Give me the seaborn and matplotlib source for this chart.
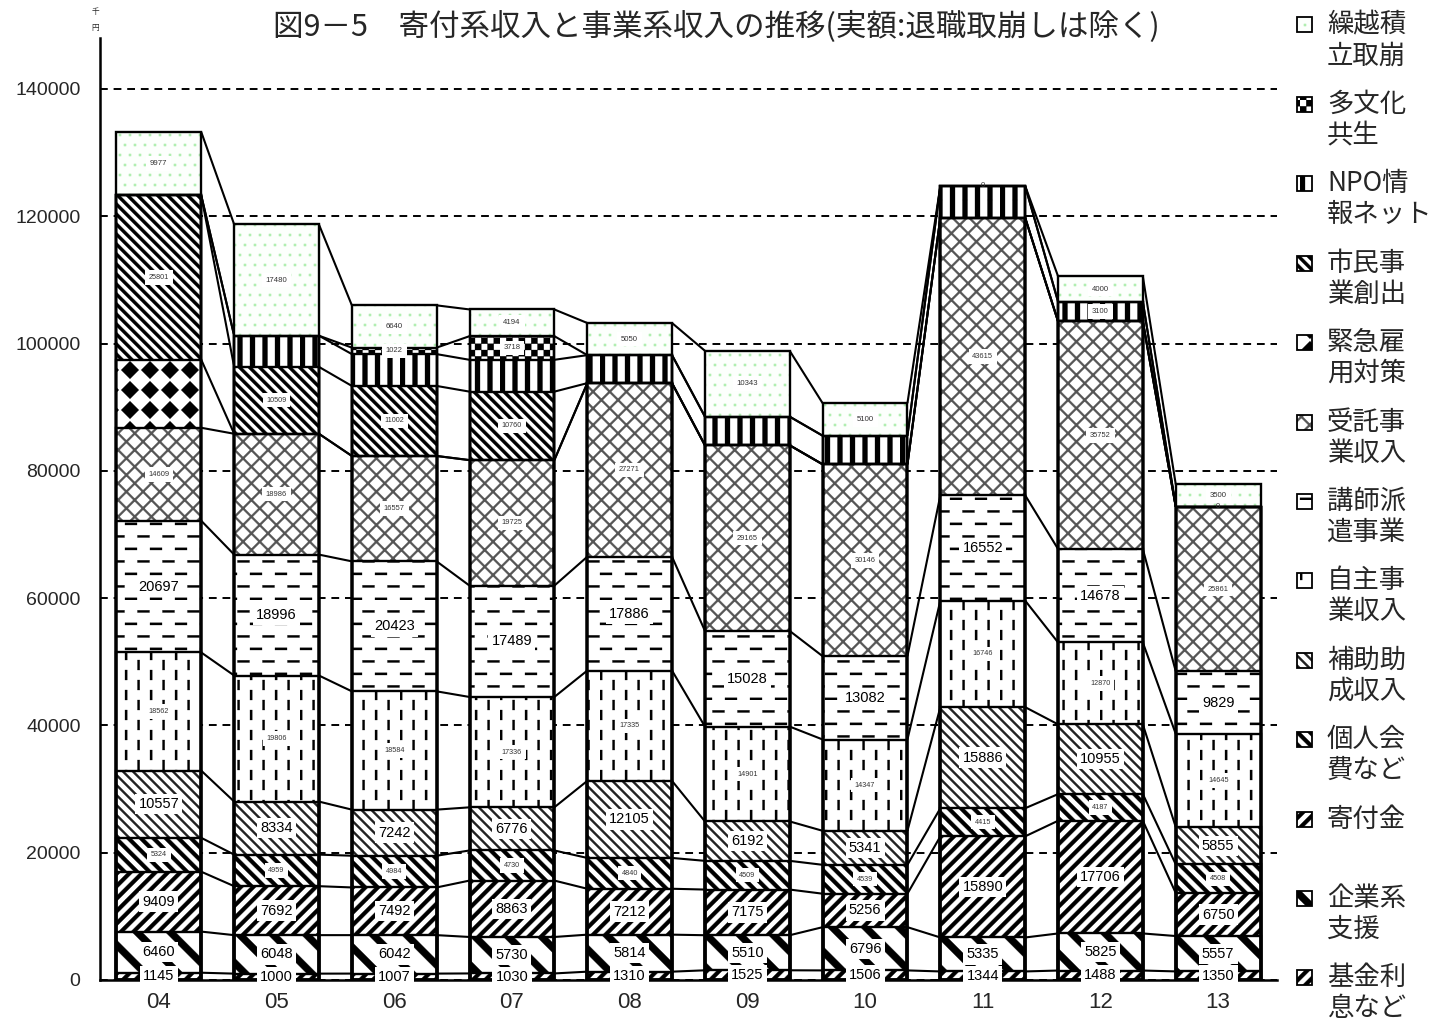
import numpy as np
import pandas as pd
import matplotlib
matplotlib.use("Agg")
import matplotlib.pyplot as plt
import matplotlib.hatch as mhatch
from matplotlib.path import Path
from matplotlib.patches import Rectangle
import seaborn as sns

# ---------------- data (千円) ----------------
years = ["04", "05", "06", "07", "08", "09", "10", "11", "12", "13"]

kikin     = [1145, 1000, 1007, 1030, 1310, 1525, 1506, 1344, 1488, 1350]          # 基金利息など
kigyo     = [6460, 6048, 6042, 5730, 5814, 5510, 6796, 5335, 5825, 5557]          # 企業系支援
kifu      = [9409, 7692, 7492, 8863, 7212, 7175, 5256, 15890, 17706, 6750]        # 寄付金
kojin     = [5324, 4959, 4984, 4730, 4840, 4509, 4539, 4415, 4187, 4508]          # 個人会費など
hojo      = [10557, 8334, 7242, 6776, 12105, 6192, 5341, 15886, 10955, 5855]      # 補助助成収入
jishu     = [18562, 19806, 18584, 17336, 17335, 14901, 14347, 16746, 12870, 14645]  # 自主事業収入
koshi     = [20697, 18996, 20423, 17489, 17886, 15028, 13082, 16552, 14678, 9829]   # 講師派遣事業
jutaku    = [14609, 18986, 16557, 19725, 27271, 29165, 30146, 43615, 35752, 25861]  # 受託事業収入
kinkyu    = [10700, 0, 0, 0, 0, 0, 0, 0, 0, 0]                                    # 緊急雇用対策
shimin    = [25801, 10509, 11002, 10760, 0, 0, 0, 0, 0, 0]                        # 市民事業創出
npo       = [0, 4900, 5000, 5000, 4400, 4500, 4500, 5000, 3100, 0]                # NPO情報ネット
tabunka   = [0, 0, 1022, 3718, 0, 0, 0, 0, 0, 0]                                  # 多文化共生
kurikoshi = [9977, 17480, 6640, 4194, 5050, 10343, 5100, 0, 4000, 3500]          # 繰越積立取崩

series_names = ["基金利息など", "企業系支援", "寄付金", "個人会費など", "補助助成収入",
                "自主事業収入", "講師派遣事業", "受託事業収入", "緊急雇用対策",
                "市民事業創出", "NPO情報ネット", "多文化共生", "繰越積立取崩"]
series_values = [kikin, kigyo, kifu, kojin, hojo, jishu, koshi, jutaku,
                 kinkyu, shimin, npo, tabunka, kurikoshi]

# legend text (two lines each), same order as series
legend_text = [("基金利", "息など"), ("企業系", "支援"), ("寄付金", ""), ("個人会", "費など"),
               ("補助助", "成収入"), ("自主事", "業収入"), ("講師派", "遣事業"),
               ("受託事", "業収入"), ("緊急雇", "用対策"), ("市民事", "業創出"),
               ("NPO情", "報ネット"), ("多文化", "共生"), ("繰越積", "立取崩")]

# labels hidden in the original / zero labels shown in the original
hidden_labels = {"緊急雇用対策": ["04"],
                 "NPO情報ネット": ["05", "06", "07", "08", "09", "10", "11"]}
zero_labels = {"繰越積立取崩": ["11"], "NPO情報ネット": ["13"]}

title = "図9－5　寄付系収入と事業系収入の推移(実額:退職取崩しは除く)"

# ---------------- styles ----------------
hatches = ["/", "\\", "/", "\\\\", "\\\\\\", "|", "-", "x", "O", "\\\\\\\\", "||", "+", "."]
hatch_colors = ["black", "black", "black", "black", "#222222", "black", "black", "#555555",
                "black", "black", "black", "black", "#b0eeb0"]
face_colors = ["white"] * 12 + ["#fcfffc"]
label_sizes = [10.5, 10.5, 10.5, 5.2, 10.5, 5.2, 10.5, 5.4, 5, 5.2, 5.5, 5.5, 5.6]


# ---------------- custom hatch patterns (filled polygons in unit cell) ----------------
def ne_stripes(n, w):
    return [[(c, 0), (c + w, 0), (c + w + 1, 1), (c + 1, 1)] for c in np.arange(-n - 1, n + 2) / n]


def se_stripes(n, w):
    return [[(c, 0), (c + w, 0), (c + w - 1, 1), (c - 1, 1)] for c in np.arange(-1, 2 * n + 2) / n]


def v_stripes(n, w):
    return [[(k / n, 0), (k / n + w, 0), (k / n + w, 1), (k / n, 1)] for k in range(n)]


def v_dashes(ncol, nrow, length, w):
    polys = []
    for k in range(ncol):
        x0 = k / ncol
        off = (k % 2) * 0.5 / nrow
        for j in range(-1, nrow + 1):
            y0 = j / nrow + off
            polys.append([(x0, y0), (x0 + w, y0), (x0 + w, y0 + length), (x0, y0 + length)])
    return polys


def h_dashes(nrow, ncol, length, w):
    polys = []
    for j in range(nrow):
        y0 = j / nrow
        off = (j % 2) * 0.5 / ncol
        for k in range(-1, ncol + 1):
            x0 = k / ncol + off
            polys.append([(x0, y0), (x0 + length, y0), (x0 + length, y0 + w), (x0, y0 + w)])
    return polys


def diamonds(n, r):
    polys = []
    for i in range(n):
        for j in range(n):
            cx, cy = (i + 0.5) / n, (j + 0.5) / n
            polys.append([(cx - r, cy), (cx, cy - r), (cx + r, cy), (cx, cy + r)])
    return polys


def checker(n):
    s = 1 / n
    return [[(i * s, j * s), ((i + 1) * s, j * s), ((i + 1) * s, (j + 1) * s), (i * s, (j + 1) * s)]
            for i in range(n) for j in range(n) if (i + j) % 2 == 0]


def dots(n, s):
    polys = []
    for j in range(n):
        off = (j % 2) * 0.5 / n
        for i in range(-1, n + 1):
            cx, cy = i / n + off, (j + 0.5) / n
            polys.append([(cx - s / 2, cy - s / 2), (cx + s / 2, cy - s / 2),
                          (cx + s / 2, cy + s / 2), (cx - s / 2, cy + s / 2)])
    return polys


PATTERNS = {
    "/": ne_stripes(8, 0.055),
    "\\": se_stripes(3, 0.1),
    "\\\\": se_stripes(8, 0.055),
    "\\\\\\": se_stripes(10, 0.03),
    "\\\\\\\\": se_stripes(10, 0.045),
    "|": v_dashes(8, 5, 0.1, 0.022),
    "-": h_dashes(8, 4, 0.12, 0.022),
    "x": ne_stripes(6, 0.028) + se_stripes(6, 0.028),
    "O": diamonds(5, 0.088),
    "||": v_stripes(8, 0.05),
    "+": checker(16),
    ".": dots(10, 0.022),
}


class PolygonHatch:
    def __init__(self, hatch, density):
        verts, codes = [], []
        for poly in PATTERNS.get(hatch, []):
            poly = [tuple(p) for p in poly]
            verts.extend(poly)
            verts.append(poly[0])
            codes.extend([Path.MOVETO] + [Path.LINETO] * (len(poly) - 1) + [Path.CLOSEPOLY])
        self._verts = np.array(verts, dtype=float).reshape(-1, 2)
        self._codes = np.array(codes, dtype=Path.code_type)
        self.num_vertices = len(self._verts)

    def set_vertices_and_codes(self, vertices, codes):
        vertices[:] = self._verts
        codes[:] = self._codes


mhatch._hatch_types[:] = [PolygonHatch]

# ---------------- figure ----------------
sns.set_style("white")
plt.rcParams["font.family"] = ["Noto Sans CJK JP", "DejaVu Sans"]
plt.rcParams["hatch.linewidth"] = 0.2

W_PX, H_PX = 1438, 1022
fig = plt.figure(figsize=(W_PX / 100, H_PX / 100), dpi=100)
ax_l, ax_r, ax_b, ax_t = 100, 1277, 980, 38
ax = fig.add_axes([ax_l / W_PX, 1 - ax_b / H_PX, (ax_r - ax_l) / W_PX, (ax_b - ax_t) / H_PX])

vals = np.array(series_values, dtype=float)
cum = np.cumsum(vals, axis=0)
base = cum - vals
df = pd.DataFrame({"year": years})
for k, name in enumerate(series_names):
    df[name] = cum[k]

BAR_W = 0.72
# filled (hatched) segments: draw tallest cumulative first, then cover downward
for k in reversed(range(len(series_names))):
    n0 = len(ax.patches)
    sns.barplot(data=df, x="year", y=series_names[k], order=years, ax=ax, width=BAR_W,
                color="white", saturation=1, errorbar=None, linewidth=0, zorder=2)
    for p in ax.patches[n0:]:
        p.set_facecolor(face_colors[k])
        p.set_edgecolor(hatch_colors[k])
        p.set_hatch(hatches[k])
        p.set_linewidth(0)

# outlines of every segment
for k in range(len(series_names)):
    n0 = len(ax.patches)
    sns.barplot(data=df, x="year", y=series_names[k], order=years, ax=ax, width=BAR_W,
                color="white", saturation=1, errorbar=None, zorder=2.6)
    for p in ax.patches[n0:]:
        p.set_facecolor("none")
        p.set_edgecolor("black")
        p.set_hatch(None)
        p.set_linewidth(1.7)

# series lines between bars
for k in range(len(series_names)):
    for i in range(len(years) - 1):
        ax.plot([i + BAR_W / 2, i + 1 - BAR_W / 2], [cum[k][i], cum[k][i + 1]],
                color="black", lw=1.5, zorder=2.5, solid_capstyle="butt")

# value labels
for k, name in enumerate(series_names):
    fs = label_sizes[k]
    big = fs > 8
    for i, yr in enumerate(years):
        v = int(vals[k][i])
        if yr in hidden_labels.get(name, []):
            continue
        if v == 0 and yr not in zero_labels.get(name, []):
            continue
        ax.text(i, base[k][i] + v / 2, str(v), ha="center", va="center", fontsize=fs,
                family=["Liberation Sans", "DejaVu Sans"],
                color="black" if big else "#333333", zorder=4,
                bbox=dict(boxstyle="square,pad=0.22" if big else "square,pad=0.5",
                          fc="white", ec="none") if v != 0 else None)

# axes styling
ax.set_xlim(-0.5, len(years) - 0.5)
ax.set_ylim(0, 148000)
ax.set_yticks(np.arange(0, 140001, 20000))
ax.set_yticklabels([str(t) for t in range(0, 140001, 20000)],
                   fontsize=14, family=["Liberation Sans", "DejaVu Sans"])
ax.set_xticks(range(len(years)))
ax.set_xticklabels(years, fontsize=16, family=["Liberation Sans", "DejaVu Sans"])
ax.tick_params(axis="y", length=0, pad=14)
ax.tick_params(axis="x", length=0, pad=9)
ax.set_xlabel("")
ax.set_ylabel("")
ax.yaxis.grid(True, linestyle=(0, (4, 3)), color="black", lw=1.4)
ax.xaxis.grid(False)
ax.set_axisbelow(True)
for s in ["top", "right"]:
    ax.spines[s].set_visible(False)
for s in ["left", "bottom"]:
    ax.spines[s].set_color("black")
    ax.spines[s].set_linewidth(1.8)

# title and unit
fig.text(716 / W_PX, 1 - 27 / H_PX, title, ha="center", va="center", fontsize=22)
fig.text(95 / W_PX, 1 - 20 / H_PX, "千\n円", ha="center", va="center", fontsize=5.5,
         linespacing=2.4)

# legend (top to bottom = reversed series order)
for j, k in enumerate(reversed(range(len(series_names)))):
    yc = 25 + 79.4 * j
    sq = 15
    rx, ry = 1297, yc - sq / 2
    fig.add_artist(Rectangle((rx / W_PX, 1 - (ry + sq) / H_PX), sq / W_PX, sq / H_PX,
                             transform=fig.transFigure, facecolor=face_colors[k],
                             edgecolor=hatch_colors[k], hatch=hatches[k], lw=0))
    fig.add_artist(Rectangle((rx / W_PX, 1 - (ry + sq) / H_PX), sq / W_PX, sq / H_PX,
                             transform=fig.transFigure, facecolor="none",
                             edgecolor="black", lw=1.3))
    l1, l2 = legend_text[k]
    fig.text(1327 / W_PX, 1 - yc / H_PX, l1, ha="left", va="center", fontsize=19)
    if l2:
        fig.text(1327 / W_PX, 1 - (yc + 31) / H_PX, l2, ha="left", va="center", fontsize=19)

fig.savefig("out.png", dpi=100)
